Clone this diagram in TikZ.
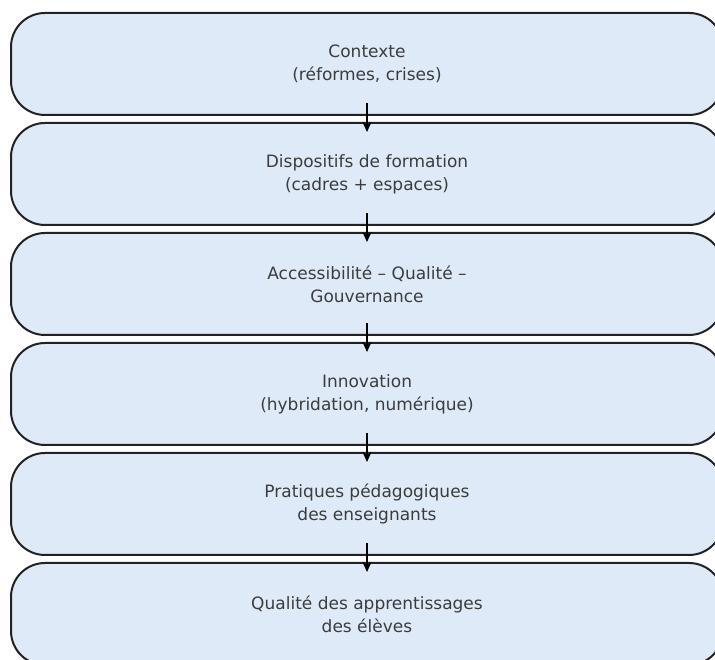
\documentclass[tikz,border=0pt]{standalone}
\usepackage{fontspec}
\setmainfont{DejaVu Sans}
\usetikzlibrary{arrows.meta,positioning}
\definecolor{stepfill}{RGB}{222,234,247}
\definecolor{stepline}{RGB}{34,34,34}
\definecolor{steptext}{RGB}{60,60,60}
\tikzset{
  stage/.style={draw=stepline,fill=stepfill,line width=2pt,
                rounded corners=34pt,outer sep=0pt,
                minimum width=712pt,minimum height=102pt,
                align=center,text=steptext,
                font=\fontsize{17pt}{23pt}\selectfont},
  arr/.style={-{Stealth[length=10pt,width=9pt]},line width=1.8pt,color=black},
}
\begin{document}
\begin{tikzpicture}[x=1pt,y=1pt,node distance=8pt]
  \useasboundingbox (0,0) rectangle (715,660);
  \clip (0,0) rectangle (715,660);
  \node[stage] (CTX) at (367,596) {Contexte\\(réformes, crises)};
  \node[stage,below=of CTX] (DIS) {Dispositifs de formation\\(cadres + espaces)};
  \node[stage,below=of DIS] (AQG) {Accessibilité – Qualité –\\Gouvernance};
  \node[stage,below=of AQG] (INN) {Innovation\\(hybridation, numérique)};
  \node[stage,below=of INN] (PRA) {Pratiques pédagogiques\\des enseignants};
  \node[stage,below=of PRA] (APP) {Qualité des apprentissages\\des élèves};

  \draw[arr] ([yshift=12pt]CTX.south) -- ([yshift=-9pt]DIS.north);
  \draw[arr] ([yshift=12pt]DIS.south) -- ([yshift=-9pt]AQG.north);
  \draw[arr] ([yshift=12pt]AQG.south) -- ([yshift=-9pt]INN.north);
  \draw[arr] ([yshift=12pt]INN.south) -- ([yshift=-9pt]PRA.north);
  \draw[arr] ([yshift=12pt]PRA.south) -- ([yshift=-9pt]APP.north);
\end{tikzpicture}
\end{document}
